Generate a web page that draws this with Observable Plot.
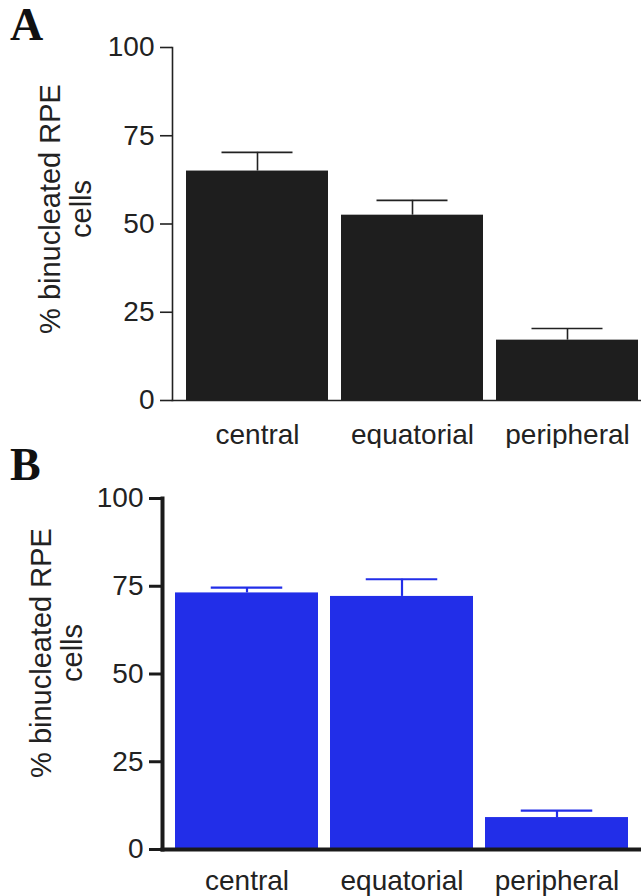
<!DOCTYPE html>
<html>
<head>
<meta charset="utf-8">
<script src="https://cdn.jsdelivr.net/npm/d3@7"></script>
<script src="https://cdn.jsdelivr.net/npm/@observablehq/plot@0.6"></script>
<style>
  html, body { margin: 0; padding: 0; background: #fff; }
  #wrap { position: relative; width: 641px; height: 896px; overflow: hidden; }
  .panel { position: absolute; left: 0; }
  .letter { position: absolute; left: 10px; font-family: "Liberation Serif", "Times New Roman", serif; font-weight: bold; font-size: 46px; line-height: 1; color: #111; }
</style>
</head>
<body>
<div id="wrap">
  <div class="panel" id="pa" style="top:0px"></div>
  <div class="panel" id="pb" style="top:448px"></div>
  <div class="letter" style="top:2px">A</div>
  <div class="letter" style="top:442px">B</div>
</div>
<script>
const categories = ["central", "equatorial", "peripheral"];
const meanA = [65.0, 52.5, 17.1];
const errA = [5.3, 4.2, 3.3];
const meanB = [73.1, 72.1, 9.1];
const errB = [1.5, 4.9, 2.0];
const yTicks = [0, 25, 50, 75, 100];
const yTitle = "% binucleated RPE\ncells";

const font = "'Liberation Sans', Arial, Helvetica, sans-serif";

function panel(means, errs, o) {
  const rows = categories.map((c, i) => ({cat: c, v: means[i], e: errs[i], top: means[i] + errs[i]}));
  return Plot.plot({
    width: 641,
    height: 448,
    marginLeft: o.axisX,
    marginRight: 0,
    marginTop: o.top,
    marginBottom: 448 - o.zero,
    style: {fontFamily: font, background: "#fff", color: "#222", overflow: "visible"},
    x: {domain: categories, range: o.xRange, paddingInner: o.pi, paddingOuter: o.po, label: null},
    y: {domain: [0, 100], ticks: yTicks, label: null},
    marks: [
      Plot.barY(rows, {x: "cat", y: "v", fill: o.fill}),
      Plot.ruleX(rows, {x: "cat", y1: "v", y2: "top", stroke: o.err, strokeWidth: o.errW}),
      Plot.tickY(rows, {x: "cat", y: "top", stroke: o.err, strokeWidth: o.errW, insetLeft: o.capInset, insetRight: o.capInset}),
      Plot.frame({anchor: "left", stroke: o.axis, strokeWidth: o.axisW}),
      Plot.frame({anchor: "bottom", stroke: o.axis, strokeWidth: o.axisW}),
      Plot.axisY({ticks: yTicks, tickSize: o.tickSize, tickPadding: 6, fontSize: 28, strokeWidth: o.tickW, stroke: o.axis, fill: "#222", label: null}),
      Plot.axisX({tickSize: 0, tickPadding: o.xPad, fontSize: 28, fill: "#222", label: null}),
      Plot.text([yTitle], {frameAnchor: "left", text: d => d, rotate: -90, textAnchor: "middle", lineAnchor: "middle", fontSize: 29, lineHeight: 1.07, dx: o.titleDx, dy: o.titleDy, fill: "#222"})
    ]
  });
}

document.getElementById("pa").appendChild(panel(meanA, errA, {
  axisX: 172, top: 47, zero: 400, xRange: [172, 652], pi: 13/155, po: 14/155,
  fill: "#1e1e1e", err: "#222", errW: 1.6, capInset: 35.5,
  axis: "#222", axisW: 1.6, tickSize: 12, tickW: 1.6, xPad: 24,
  titleDx: -107, titleDy: -15
}));

document.getElementById("pb").appendChild(panel(meanB, errB, {
  axisX: 162, top: 50, zero: 401, xRange: [162, 641], pi: 12/155, po: 13/155,
  fill: "#222ee8", err: "#222ee8", errW: 2.2, capInset: 35.75,
  axis: "#1a1a1a", axisW: 4, tickSize: 13, tickW: 3, xPad: 21,
  titleDx: -106, titleDy: -21
}));
</script>
</body>
</html>
